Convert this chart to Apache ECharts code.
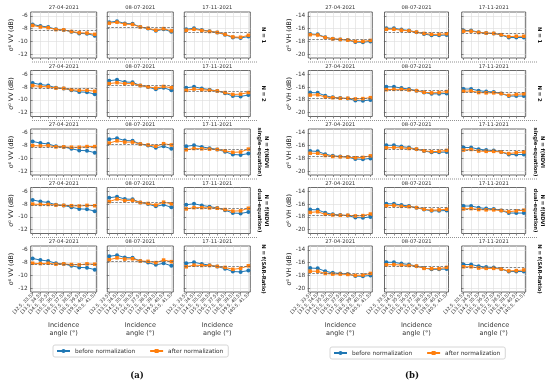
<!DOCTYPE html>
<html><head><meta charset="utf-8">
<script src="https://cdn.jsdelivr.net/npm/echarts@6/dist/echarts.min.js"></script>
<style>html,body{margin:0;padding:0;background:#fff}#c{width:550px;height:383px}</style>
</head><body><div id="c"></div>
<script>
// ---------- DATA ----------
const angleBins = ['[32.5, 33.5)','[33.5, 34.5)','[34.5, 35.5)','[35.5, 36.5)','[36.5, 37.5)','[37.5, 38.5)','[38.5, 39.5)','[39.5, 40.5)','[40.5, 41.5)'];
const dates = ['27-04-2021','08-07-2021','17-11-2021'];
const rowLabels = ['N = 1','N = 2','N = f(NDVI\nsingle-equation)','N = f(NDVI\ndual-equation)','N = f(SAR-Ratio)'];
const legendNames = ['before normalization','after normalization'];
const vvTicks = [-12,-10,-8,-6];
const vhTicks = [-20,-18,-16,-14];

// VV, before normalization (one list per date)
const vvBefore = [
  [-7.35,-7.6,-7.75,-8.1,-8.2,-8.5,-8.75,-8.8,-9.1],
  [-7.0,-6.85,-7.2,-7.25,-7.75,-8.0,-8.35,-8.1,-8.5],
  [-8.1,-7.95,-8.2,-8.4,-8.6,-8.95,-9.4,-9.45,-9.25]
];
const vvRef = [-8.2,-7.75,-8.6];
const vvAfterN1 = [
  [-7.5,-7.75,-7.85,-8.15,-8.2,-8.45,-8.65,-8.7,-8.9],
  [-7.15,-7.0,-7.3,-7.35,-7.75,-7.95,-8.25,-8.0,-8.35],
  [-8.25,-8.1,-8.3,-8.45,-8.6,-8.9,-9.3,-9.35,-9.05]
];
const vvAfterN2 = [
  [-7.75,-7.9,-7.95,-8.15,-8.2,-8.4,-8.5,-8.5,-8.65],
  [-7.45,-7.3,-7.45,-7.45,-7.75,-7.95,-8.15,-7.9,-8.1],
  [-8.5,-8.3,-8.4,-8.5,-8.6,-8.85,-9.15,-9.1,-8.85]
];
const vvAfterNdviSingle = [
  [-8.0,-8.05,-8.0,-8.2,-8.2,-8.25,-8.25,-8.15,-8.15],
  [-7.6,-7.25,-7.45,-7.45,-7.75,-7.9,-8.1,-7.7,-7.9],
  [-8.65,-8.45,-8.5,-8.55,-8.6,-8.8,-9.05,-9.0,-8.55]
];
const vvAfterNdviDual = [
  [-8.0,-8.05,-8.05,-8.15,-8.2,-8.25,-8.3,-8.2,-8.25],
  [-7.6,-7.2,-7.45,-7.4,-7.75,-7.9,-8.15,-7.7,-7.95],
  [-8.75,-8.55,-8.55,-8.6,-8.65,-8.85,-9.1,-9.05,-8.65]
];
const vvAfterSar = [
  [-8.1,-8.15,-8.1,-8.25,-8.2,-8.3,-8.35,-8.2,-8.25],
  [-7.55,-7.25,-7.45,-7.4,-7.75,-7.8,-8.0,-7.6,-7.85],
  [-8.65,-8.4,-8.45,-8.45,-8.6,-8.75,-9.05,-8.9,-8.5]
];

// VH
const vhBefore = [
  [-16.85,-16.9,-17.35,-17.6,-17.7,-17.8,-18.1,-18.15,-18.0],
  [-15.95,-15.95,-16.15,-16.3,-16.55,-16.85,-17.05,-17.05,-17.0],
  [-16.3,-16.3,-16.55,-16.7,-16.75,-17.0,-17.4,-17.4,-17.4]
];
const vhRef = [-17.7,-16.55,-16.75];
const vhAfterN1 = [
  [-16.95,-17.0,-17.4,-17.6,-17.7,-17.8,-18.0,-18.0,-17.85],
  [-16.1,-16.1,-16.25,-16.35,-16.55,-16.75,-16.9,-16.9,-16.8],
  [-16.4,-16.4,-16.6,-16.7,-16.75,-16.95,-17.25,-17.2,-17.2]
];
const vhAfterN2 = [
  [-17.25,-17.2,-17.55,-17.65,-17.75,-17.75,-17.85,-17.8,-17.65],
  [-16.4,-16.35,-16.35,-16.45,-16.55,-16.8,-16.9,-16.85,-16.7],
  [-16.65,-16.6,-16.85,-16.9,-16.9,-17.0,-17.3,-17.15,-17.05]
];
const vhAfterNdviSingle = [
  [-17.2,-17.2,-17.55,-17.7,-17.75,-17.8,-17.9,-17.85,-17.6],
  [-16.35,-16.3,-16.35,-16.45,-16.55,-16.8,-16.95,-16.9,-16.75],
  [-16.7,-16.6,-16.85,-16.9,-16.9,-17.0,-17.25,-17.1,-17.0]
];
const vhAfterNdviDual = [
  [-17.3,-17.2,-17.6,-17.7,-17.75,-17.75,-17.85,-17.8,-17.55],
  [-16.25,-16.2,-16.35,-16.4,-16.55,-16.8,-16.95,-16.9,-16.8],
  [-16.75,-16.7,-16.85,-16.9,-16.9,-17.0,-17.2,-17.05,-16.95]
];
const vhAfterSar = [
  [-17.35,-17.35,-17.7,-17.8,-17.8,-17.85,-18.0,-17.95,-17.7],
  [-16.35,-16.3,-16.4,-16.45,-16.55,-16.9,-16.95,-16.95,-16.75],
  [-16.65,-16.65,-16.85,-16.9,-16.9,-17.0,-17.3,-17.25,-17.15]
];

// ---------- LAYOUT ----------
const BLUE = '#1f77b4', ORANGE = '#ff7f0e';
const FONT = 'DejaVu Sans';
const rowTop0 = 12, rowPitch = 58.5, boxH = 46;
const panels = [
  {ylab:'σ⁰ VV (dB)', before:vvBefore, ref:vvRef, ticks:vvTicks,
   after:[vvAfterN1,vvAfterN2,vvAfterNdviSingle,vvAfterNdviDual,vvAfterSar],
   lefts:[30.7,107.3,184.3], w:66, yMin:-12.6, yMax:-5.4, rowLabX:263, sepX:[32,257],
   legendLeft:53, legendTop:345, capX:137, cap:'(a)'},
  {ylab:'σ⁰ VH (dB)', before:vhBefore, ref:vhRef, ticks:vhTicks,
   after:[vhAfterN1,vhAfterN2,vhAfterNdviSingle,vhAfterNdviDual,vhAfterSar],
   lefts:[308.3,384.5,461.7], w:64, yMin:-20.6, yMax:-13.4, rowLabX:539, sepX:[308,538],
   legendLeft:330, legendTop:347, capX:412, cap:'(b)'}
];

const grids=[], xAxes=[], yAxes=[], series=[], graphics=[], legends=[];
let k = 0;
panels.forEach(p => {
  for (let r = 0; r < 5; r++) {
    const top = rowTop0 + r*rowPitch;
    for (let c = 0; c < 3; c++) {
      const left = p.lefts[c];
      grids.push({left:left, top:top, width:p.w, height:boxH, show:true,
        borderColor:'#444', borderWidth:0.8, backgroundColor:'transparent', containLabel:false});
      const last = (r === 4);
      xAxes.push({gridIndex:k, type:'value', min:-0.25, max:8.25, splitNumber:8,
        axisLine:{show:false},
        axisTick:{show:true, length:2, lineStyle:{color:'#444', width:0.6}, customValues:angleBins.map((_, i)=>i)},
        axisLabel:{show:last, rotate:45, fontSize:4.6, margin:2, color:'#333', fontFamily:FONT,
          customValues:angleBins.map((_, i)=>i),
          formatter:v => (Number.isInteger(v) && angleBins[v]) ? angleBins[v] : ''},
        splitLine:{show:true, lineStyle:{color:'#dcdcdc', width:0.6}}});
      yAxes.push({gridIndex:k, type:'value', min:p.yMin, max:p.yMax, splitNumber:3,
        axisLine:{show:false},
        axisTick:{show:true, length:2.5, lineStyle:{color:'#444', width:0.6}, customValues:p.ticks},
        axisLabel:{show:c===0, fontSize:5.8, margin:3, color:'#333', fontFamily:FONT, customValues:p.ticks},
        splitLine:{show:true, lineStyle:{color:'#dcdcdc', width:0.6}},
        name: c===0 ? p.ylab : '', nameLocation:'middle', nameRotate:90, nameGap:14,
        nameTextStyle:{fontSize:6.3, color:'#222', fontFamily:FONT}});
      series.push({type:'line', name:legendNames[0], xAxisIndex:k, yAxisIndex:k,
        data:p.before[c].map((v,i)=>[i,v]), symbol:'circle', symbolSize:4,
        lineStyle:{width:1, color:BLUE}, itemStyle:{color:BLUE}, animation:false, z:2,
        markLine:{silent:true, symbol:'none', label:{show:false},
          lineStyle:{type:[2.5,1.5], color:'#666', width:0.8}, data:[{yAxis:p.ref[c]}], animation:false}});
      series.push({type:'line', name:legendNames[1], xAxisIndex:k, yAxisIndex:k,
        data:p.after[r][c].map((v,i)=>[i,v]), symbol:'rect', symbolSize:3.5,
        lineStyle:{width:1, color:ORANGE}, itemStyle:{color:ORANGE}, animation:false, z:3});
      // date title
      graphics.push({type:'text', x:left + p.w/2, y:top - 1.5,
        style:{text:dates[c], fontSize:5.2, fill:'#333', fontFamily:FONT, textAlign:'center', textVerticalAlign:'bottom'}});
      if (last) {
        graphics.push({type:'text', x:left + p.w/2, y:321,
          style:{text:'Incidence\nangle (°)', fontSize:6.5, lineHeight:8, fill:'#333', fontFamily:FONT, textAlign:'center', textVerticalAlign:'top'}});
      }
      k++;
    }
    // row label
    graphics.push({type:'text', x:p.rowLabX, y:top + boxH/2, rotation:-Math.PI/2,
      style:{text:rowLabels[r], fontSize:5.3, lineHeight:6.5, fontWeight:'bold', fill:'#111', fontFamily:FONT, textAlign:'center', textVerticalAlign:'middle'}});
    if (r < 4) {
      const y = top + boxH + 4;
      graphics.push({type:'line', shape:{x1:p.sepX[0], y1:y, x2:p.sepX[1], y2:y},
        style:{stroke:'#777', lineWidth:0.8, lineDash:[1,1]}});
    }
  }
  legends.push({left:p.legendLeft, top:p.legendTop, width:230, orient:'horizontal', data:legendNames,
    itemWidth:13, itemHeight:5, itemGap:14, padding:[3,5,3,3], borderColor:'#ccc', borderWidth:0.8, borderRadius:2,
    textStyle:{fontSize:5.8, color:'#333', fontFamily:FONT}, selectedMode:false});
  graphics.push({type:'text', x:p.capX, y:376,
    style:{text:p.cap, fontSize:8.5, fontWeight:'bold', fill:'#111', fontFamily:'DejaVu Serif', textAlign:'center', textVerticalAlign:'middle'}});
});

const chart = echarts.init(document.getElementById('c'), null, {renderer:'canvas'});
chart.setOption({backgroundColor:'#fff', animation:false, grid:grids, xAxis:xAxes, yAxis:yAxes,
  series:series, legend:legends, graphic:graphics});
</script></body></html>
